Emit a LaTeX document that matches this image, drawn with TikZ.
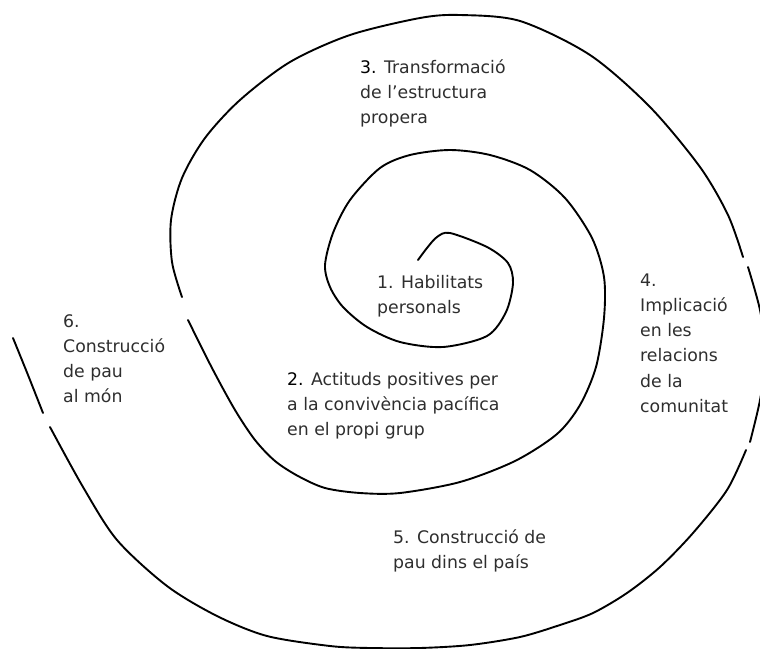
\documentclass[tikz,border=0pt]{standalone}
\usepackage{fontspec}
\setmainfont{DejaVu Sans}
\newcommand{\mylines}[1]{\begin{tabular}[t]{@{}l@{}}#1\end{tabular}}
\begin{document}
\begin{tikzpicture}[x=1pt,y=-1pt,
  spiral/.style={line width=1.9pt, line cap=round, line join=round, black},
  lbl/.style={anchor=base west, inner sep=0pt, text=black!82,
    font=\fontsize{17.3}{25.3}\selectfont},
  num/.style={text=black}]
\useasboundingbox (0,0) rectangle (760,648);
\begin{scope}
\clip (0,0) rectangle (760,648);
% segment A: from the inner hook outwards
\draw[spiral] plot[smooth] coordinates {(418,260) (427,248) (437,237) (450,233) (487,247) (508,263) (513,283) (506,312) (487,336) (443,347) (400,342) (367,327) (343,307) (330,287) (325,265) (333,233) (350,200) (380,168) (410,155) (450,150) (490,155) (530,170) (565,198) (592,238) (604,277) (604,318) (596,367) (580,405) (557,434) (515,461) (460,482) (400,493) (360,493) (325,488) (298,476) (275,461) (255,440) (235,410) (212,368) (188,320)};
% segment B
\draw[spiral] plot[smooth] coordinates {(182,297) (172,262) (171,220) (182,178) (205,138) (240,100) (290,62) (350,35) (420,18) (460,15) (520,21) (590,55) (650,107) (700,167) (728,215) (743,257)};
% segment C
\draw[spiral] plot[smooth] coordinates {(748,267) (760,310) (766,355) (760,400) (750,442)};
% segment D
\draw[spiral] plot[smooth] coordinates {(746,450) (727,490) (693,533) (660,567) (627,593) (593,613) (560,625) (520,637) (470,645) (420,648) (370,648) (330,646) (267,636) (217,616) (167,586) (117,540) (83,487) (50,427)};
% segment E
\draw[spiral] plot[smooth] coordinates {(43,413) (28,375) (13,338)};
\end{scope}
\node[lbl] (n1) at (377,288) {\mylines{1. Habilitats\\personals}};
\node[lbl] (n2) at (287,385) {\mylines{\textcolor{black}{2.} Actituds positives per\\a la convivència pacífica\\en el propi grup}};
\node[lbl] (n3) at (360,73) {\mylines{\textcolor{black}{3.} Transformació\\de l’estructura\\propera}};
\node[lbl] (n4) at (640,286) {\mylines{4.\\Implicació\\en les\\relacions\\de la\\comunitat}};
\node[lbl] (n5) at (393,543) {\mylines{5. Construcció de\\pau dins el país}};
\node[lbl] (n6) at (63,327) {\mylines{6.\\Construcció\\de pau\\al món}};
\end{tikzpicture}
\end{document}
